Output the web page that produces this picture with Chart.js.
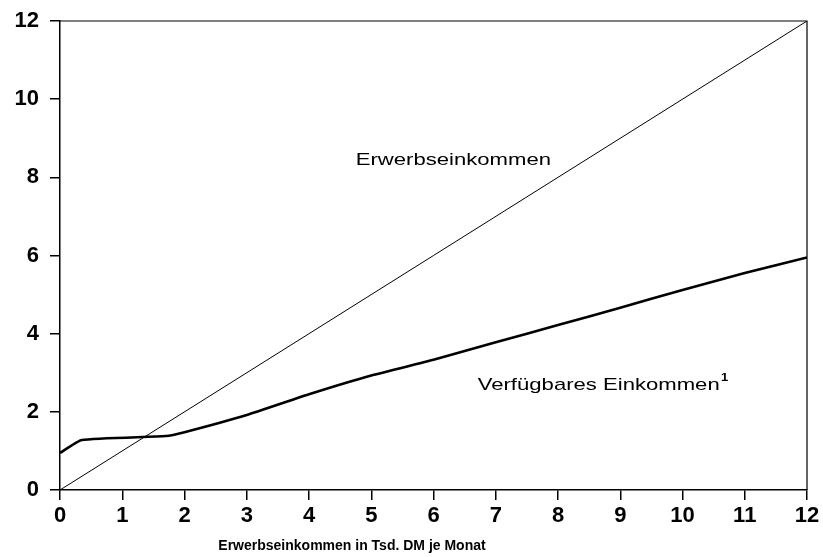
<!DOCTYPE html>
<html>
<head>
<meta charset="utf-8">
<script src="https://cdn.jsdelivr.net/npm/chart.js@4"></script>
<style>
  body { margin: 0; background: #fff; }
  canvas { display: block; }
</style>
</head>
<body>
<canvas id="myChart" width="823" height="557"></canvas>
<script>
// data
var erwerbX = [0, 12];
var erwerbY = [0, 12];
var verfX = [0, 0.35, 1.7, 2, 3, 4, 5, 6, 7, 8, 9, 10, 11, 12];
var verfY = [0.95, 1.28, 1.38, 1.48, 1.92, 2.45, 2.93, 3.33, 3.78, 4.22, 4.66, 5.12, 5.55, 5.95];

var xTicks = [0, 1, 2, 3, 4, 5, 6, 7, 8, 9, 10, 11, 12];
var yTicks = [0, 2, 4, 6, 8, 10, 12];

var xTitle = 'Erwerbseinkommen in Tsd. DM je Monat';
var lineLabels = [
    { text: 'Erwerbseinkommen', x: 4.75, y: 8.32, sup: '' },
    { text: 'Verfügbares Einkommen', x: 6.71, y: 2.56, sup: '1' }
];

function points(xs, ys) {
    return xs.map(function (x, i) { return { x: x, y: ys[i] }; });
}

var fontFam = '"Liberation Sans", Arial, Helvetica, sans-serif';

// frame + labels drawn on top
const extras = {
    id: 'extras',
    afterDraw(chart) {
        const ctx = chart.ctx;
        const a = chart.chartArea;
        const xs = chart.scales.x, ys = chart.scales.y;
        ctx.save();
        ctx.strokeStyle = '#000';
        ctx.lineWidth = 1.2;
        ctx.beginPath();
        ctx.moveTo(a.left, a.top);
        ctx.lineTo(a.right, a.top);
        ctx.lineTo(a.right, a.bottom);
        ctx.stroke();

        ctx.fillStyle = '#000';
        ctx.textBaseline = 'alphabetic';
        lineLabels.forEach(function (l) {
            const px = xs.getPixelForValue(l.x);
            const py = ys.getPixelForValue(l.y);
            ctx.save();
            ctx.translate(px, py);
            ctx.scale(1.3, 1);
            ctx.font = '17px ' + fontFam;
            ctx.textAlign = 'left';
            ctx.fillText(l.text, 0, 0);
            if (l.sup) {
                const w = ctx.measureText(l.text).width;
                ctx.font = 'bold 10px ' + fontFam;
                ctx.fillText(l.sup, w + 1, -9);
            }
            ctx.restore();
        });

        ctx.font = 'bold 14px ' + fontFam;
        ctx.textAlign = 'center';
        ctx.fillText(xTitle, 352, 550);
        ctx.restore();
    }
};

const data = {
    datasets: [
        {
            label: 'Erwerbseinkommen',
            data: points(erwerbX, erwerbY),
            borderColor: '#000',
            borderWidth: 1,
            pointRadius: 0,
            tension: 0
        },
        {
            label: 'Verfügbares Einkommen',
            data: points(verfX, verfY),
            borderColor: '#000',
            borderWidth: 2.6,
            pointRadius: 0,
            tension: 0.15
        }
    ]
};

const config = {
    type: 'line',
    data: data,
    options: {
        responsive: false,
        animation: false,
        layout: { padding: { top: 21, right: 16, left: 0, bottom: 0 } },
        plugins: { legend: { display: false }, tooltip: { enabled: false } },
        scales: {
            x: {
                type: 'linear',
                min: 0,
                max: 12,
                afterBuildTicks: function (s) { s.ticks = xTicks.map(function (v) { return { value: v }; }); },
                afterFit: function (s) { s.height = 67; s.paddingLeft = 0; s.paddingRight = 0; },
                ticks: {
                    color: '#000',
                    padding: 3,
                    maxRotation: 0,
                    font: { family: fontFam, size: 22, weight: 'bold' }
                },
                grid: { drawOnChartArea: false, tickLength: 10, color: '#000', lineWidth: 1.5 },
                border: { color: '#000', width: 1.5 }
            },
            y: {
                min: 0,
                max: 12,
                afterBuildTicks: function (s) { s.ticks = yTicks.map(function (v) { return { value: v }; }); },
                afterFit: function (s) { s.width = 60; s.paddingTop = 0; s.paddingBottom = 0; },
                ticks: {
                    color: '#000',
                    padding: 11,
                    font: { family: fontFam, size: 22, weight: 'bold' }
                },
                grid: { drawOnChartArea: false, tickLength: 10, color: '#000', lineWidth: 1.5 },
                border: { color: '#000', width: 1.5 }
            }
        }
    },
    plugins: [extras]
};

var myChart = new Chart(document.getElementById('myChart'), config);
</script>
</body>
</html>
